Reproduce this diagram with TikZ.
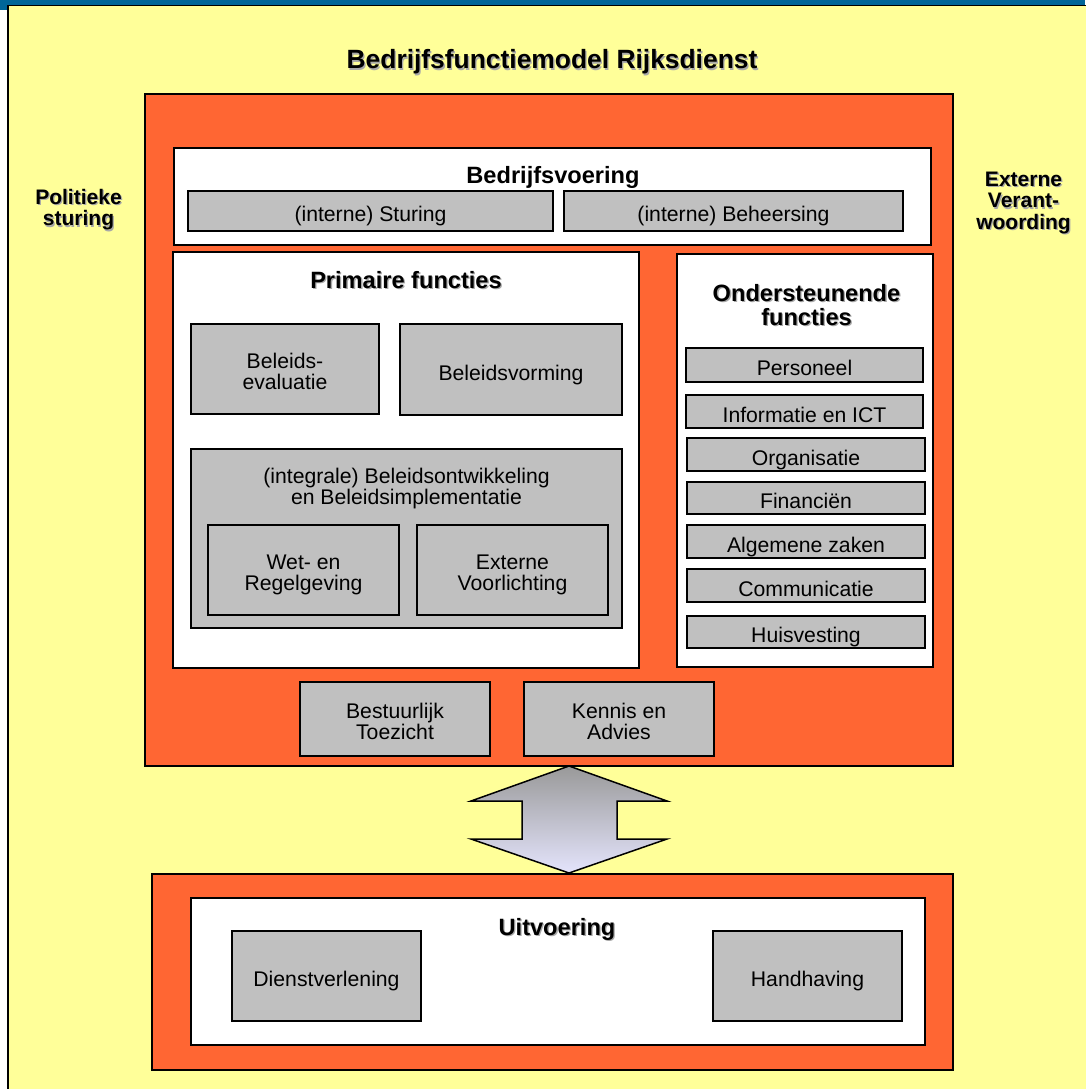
\documentclass[tikz,border=0pt]{standalone}
\usepackage{fontspec}
\setmainfont{Liberation Sans}
\usetikzlibrary{fit,calc}
\definecolor{bgyellow}{HTML}{FFFF99}
\definecolor{orng}{HTML}{FF6633}
\definecolor{gry}{HTML}{C0C0C0}
\definecolor{topblue}{HTML}{006699}
\definecolor{shadowgray}{HTML}{A8A8A8}
\definecolor{arrowtop}{HTML}{999999}
\definecolor{arrowbot}{HTML}{E4E4FC}
\newcommand\bodyfont{\fontsize{21.2}{21.5}\selectfont}
\newcommand\headfont{\fontsize{23.6}{24}\selectfont\bfseries}
\newcommand\sidefont{\fontsize{21}{21.8}\selectfont\bfseries}
\newcommand\titlefont{\fontsize{26.4}{27}\selectfont\bfseries}
\newcommand\ml[1]{\begin{tabular}[t]{@{}c@{}}#1\end{tabular}}
\newcommand\shtext[4]{%
  \node[#3, text=shadowgray, xshift=1.3pt, yshift=-1.3pt] (#1-s) at (#2) {#4};
  \node[#3] (#1) at (#2) {#4};}
\newcommand\gbox[4]{%
  \node[graybox, fit={(#2)(#3)}] (#1) {};
  \node[body] (#1-t) at ($(#1.center)+(0,10.5)$) {#4};}
\newcommand\gboxtwo[4]{%
  \node[graybox, fit={(#2)(#3)}] (#1) {};
  \node[body] (#1-t) at ($(#1.center)+(0,-1)$) {\ml{#4}};}
\tikzset{
  txt/.style={anchor=base, inner sep=0pt, outer sep=0pt},
  titletext/.style={txt, font=\titlefont},
  headtext/.style={txt, font=\headfont},
  sidetext/.style={txt, font=\sidefont},
  body/.style={txt, font=\bodyfont},
  frame/.style={draw=black, line width=1.5pt, inner sep=0pt, outer sep=0pt},
  orangebox/.style={frame, fill=orng},
  whitebox/.style={frame, line width=1.8pt, fill=white},
  graybox/.style={frame, line width=1.4pt, fill=gry},
  blockarrow/.style={draw=black, line width=1.5pt, line join=miter, top color=arrowtop, bottom color=arrowbot},
}
\begin{document}
\begin{tikzpicture}[x=1pt,y=-1pt]
\useasboundingbox (0,0) rectangle (1085,1089);
% background
\fill[white] (0,0) rectangle (1085,1089);
\fill[topblue] (0,0) rectangle (1085,5.5);
\fill[topblue] (0,0) rectangle (8,10);
\filldraw[fill=bgyellow, draw=black, line width=1.5pt] (8,5.5) rectangle (1100,1100);
% titles
\shtext{title}{552,69}{titletext}{Bedrijfsfunctiemodel Rijksdienst}
\shtext{pol}{78.5,204}{sidetext}{\ml{Politieke\\sturing}}
\shtext{ext}{1023.5,186}{sidetext}{\ml{Externe\\Verant-\\woording}}
% main orange
\node[orangebox, fit={(145,94)(953,766)}] (main) {};
% Bedrijfsvoering
\node[whitebox, fit={(174,148)(931,245)}] (bv) {};
\node[headtext] (bv-t) at (553,183) {Bedrijfsvoering};
\gbox{sturing}{188,191}{553,231}{(interne) Sturing}
\gbox{beheer}{564,191}{903,231}{(interne) Beheersing}
% Primaire functies
\node[whitebox, fit={(173,252)(639,668)}] (prim) {};
\shtext{prim-t}{406,288}{headtext}{Primaire functies}
\gboxtwo{eval}{191,324}{379,414}{Beleids-\\evaluatie}
\gbox{vorm}{400,324}{622,415}{Beleidsvorming}
\node[graybox, fit={(191,449)(622,628)}] (integ) {};
\node[body] (integ-t) at (406.5,483) {\ml{(integrale) Beleidsontwikkeling\\en Beleidsimplementatie}};
\gboxtwo{wet}{208,525}{399,615}{Wet- en\\Regelgeving}
\gboxtwo{voorl}{417,525}{608,615}{Externe\\Voorlichting}
% Ondersteunende functies
\node[whitebox, fit={(677,254)(933,667)}] (onder) {};
\shtext{onder-t}{806.5,301}{headtext}{\ml{Ondersteunende\\functies}}
\gbox{pers}{686,348}{923,382}{Personeel}
\gbox{ict}{686,395}{923,428}{Informatie en ICT}
\gbox{org}{687,438}{925,471}{Organisatie}
\gbox{fin}{687,482}{925,514}{Financiën}
\gbox{alg}{687,525}{925,558}{Algemene zaken}
\gbox{comm}{687,569}{925,602}{Communicatie}
\gbox{huis}{687,616}{925,648}{Huisvesting}
% bottom of main
\gboxtwo{toez}{300,682}{490,756}{Bestuurlijk\\Toezicht}
\gboxtwo{advies}{524,682}{714,756}{Kennis en\\Advies}
% Uitvoering
\node[orangebox, fit={(152,874)(953,1070)}] (lower) {};
\node[whitebox, fit={(191,898)(925,1045)}] (uitv) {};
\shtext{uitv-t}{557,935}{headtext}{Uitvoering}
\gbox{dienst}{232,931}{421,1021}{Dienstverlening}
\gbox{handh}{713,931}{902,1021}{Handhaving}
% double block arrow
\coordinate (arrtop) at (569,766);
\coordinate (arrbot) at (569,873);
\draw[blockarrow] (arrtop) -- ($(arrtop)+(98,35)$) -- ($(arrtop)+(48,35)$)
  -- ($(arrbot)+(48,-34)$) -- ($(arrbot)+(98,-34)$) -- (arrbot)
  -- ($(arrbot)+(-98,-34)$) -- ($(arrbot)+(-47,-34)$)
  -- ($(arrtop)+(-47,35)$) -- ($(arrtop)+(-98,35)$) -- cycle;
\end{tikzpicture}
\end{document}
